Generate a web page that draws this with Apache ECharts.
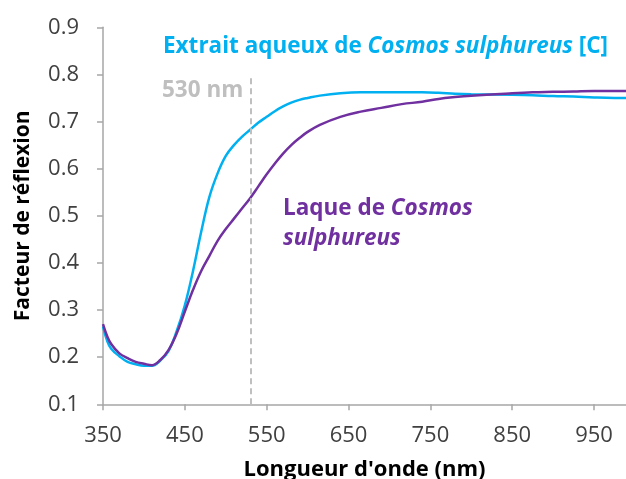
<!DOCTYPE html>
<html>
<head>
<meta charset="utf-8">
<script src="https://cdn.jsdelivr.net/npm/echarts@6/dist/echarts.min.js"></script>
<style>
html,body{margin:0;padding:0;background:#fff;}
#chart{width:626px;height:479px;}
</style>
</head>
<body>
<div id="chart"></div>
<script>
// Wavelengths (nm)
var wavelengths = [350,355,360,370,380,390,400,410,420,430,440,450,460,470,480,490,500,510,520,530,540,550,560,570,580,590,600,615,640,665,690,715,740,760,780,800,850,875,900,925,950,975,989];
// Extrait aqueux de Cosmos sulphureus [C]
var extraitValues = [0.265,0.235,0.218,0.202,0.190,0.185,0.182,0.182,0.193,0.213,0.255,0.310,0.383,0.466,0.540,0.590,0.627,0.650,0.668,0.683,0.698,0.710,0.722,0.732,0.740,0.746,0.750,0.755,0.760,0.762,0.762,0.762,0.762,0.761,0.759,0.758,0.757,0.756,0.754,0.753,0.751,0.750,0.750];
// Laque de Cosmos sulphureus
var laqueValues = [0.270,0.245,0.228,0.208,0.198,0.190,0.186,0.183,0.194,0.215,0.250,0.297,0.343,0.383,0.415,0.447,0.472,0.494,0.516,0.538,0.563,0.588,0.611,0.632,0.650,0.665,0.678,0.693,0.710,0.721,0.729,0.737,0.742,0.748,0.752,0.755,0.760,0.762,0.763,0.764,0.765,0.765,0.765];
var xTicks = [350,450,550,650,750,850,950];
var yTicks = [0.1,0.2,0.3,0.4,0.5,0.6,0.7,0.8,0.9];
var refLine = 530;
var refLineTop = 0.795;

var FONT = '"Open Sans"';
var ANN = 22.5;
var chart = echarts.init(document.getElementById('chart'), null, {renderer:'canvas'});
function pairs(xs, ys){ return xs.map(function(x,i){return [x, ys[i]];}); }

chart.setOption({
  animation:false,
  backgroundColor:'#ffffff',
  grid:{left:103,right:0,top:27.3,bottom:74.7,containLabel:false,outerBoundsMode:'none'},
  xAxis:{
    type:'value', min:350, max:989,
    name:"Longueur d'onde (nm)", nameLocation:'middle', nameGap:54,
    nameTextStyle:{fontFamily:FONT,fontWeight:'bold',fontSize:22,color:'#000'},
    axisLine:{show:true,lineStyle:{color:'#a6a6a6',width:1.5}},
    axisTick:{show:true,length:6,lineStyle:{color:'#a6a6a6',width:1.5},customValues:xTicks},
    axisLabel:{fontFamily:FONT,fontSize:22,color:'#404040',margin:20,customValues:xTicks},
    splitLine:{show:false}
  },
  yAxis:{
    type:'value', min:0.1, max:0.9, interval:0.1,
    name:'Facteur de réflexion', nameLocation:'middle', nameGap:69, nameRotate:90,
    nameTextStyle:{fontFamily:FONT,fontWeight:'bold',fontSize:21,color:'#000'},
    axisLine:{show:true,lineStyle:{color:'#a6a6a6',width:1.5}},
    axisTick:{show:true,length:6,lineStyle:{color:'#a6a6a6',width:1.5}},
    axisLabel:{fontFamily:FONT,fontSize:22,color:'#404040',margin:24,formatter:function(v){return v.toFixed(1);}},
    splitLine:{show:false}
  },
  series:[
    {
      type:'line', name:'Laque de Cosmos sulphureus', data:pairs(wavelengths, laqueValues),
      showSymbol:false, smooth:0.4, lineStyle:{color:'#7030a0',width:2.5}, itemStyle:{color:'#7030a0'},
      z:3
    },
    {
      type:'line', name:'Extrait aqueux de Cosmos sulphureus [C]', data:pairs(wavelengths, extraitValues),
      showSymbol:false, smooth:0.4, lineStyle:{color:'#00b0f0',width:2.5}, itemStyle:{color:'#00b0f0'},
      z:2,
      markLine:{
        silent:true, symbol:['none','none'], label:{show:false},
        lineStyle:{color:'#bfbfbf',type:[6,4],width:2},
        data:[[{coord:[refLine,0.1]},{coord:[refLine,refLineTop]}]]
      }
    }
  ],
  graphic:[
    {type:'text', x:163, y:46.5, style:{
      text:'{n|Extrait aqueux de }{i|Cosmos sulphureus}{n| [C]}',
      verticalAlign:'middle',
      rich:{
        n:{fontFamily:FONT,fontWeight:'bold',fontSize:ANN,fill:'#00b0f0'},
        i:{fontFamily:FONT,fontWeight:'bold',fontStyle:'italic',fontSize:ANN,fill:'#00b0f0'}
      }
    }},
    {type:'text', x:162, y:90.5, style:{
      text:'530 nm', verticalAlign:'middle', fontFamily:FONT,fontWeight:'bold',fontSize:ANN,fill:'#bfbfbf'
    }},
    {type:'text', x:283, y:209, style:{
      text:'{n|Laque de }{i|Cosmos}', verticalAlign:'middle',
      rich:{
        n:{fontFamily:FONT,fontWeight:'bold',fontSize:ANN,fill:'#7030a0'},
        i:{fontFamily:FONT,fontWeight:'bold',fontStyle:'italic',fontSize:ANN,fill:'#7030a0'}
      }
    }},
    {type:'text', x:283, y:239, style:{
      text:'sulphureus', verticalAlign:'middle',
      fontFamily:FONT,fontWeight:'bold',fontStyle:'italic',fontSize:ANN,fill:'#7030a0'
    }}
  ]
});
</script>
</body>
</html>
